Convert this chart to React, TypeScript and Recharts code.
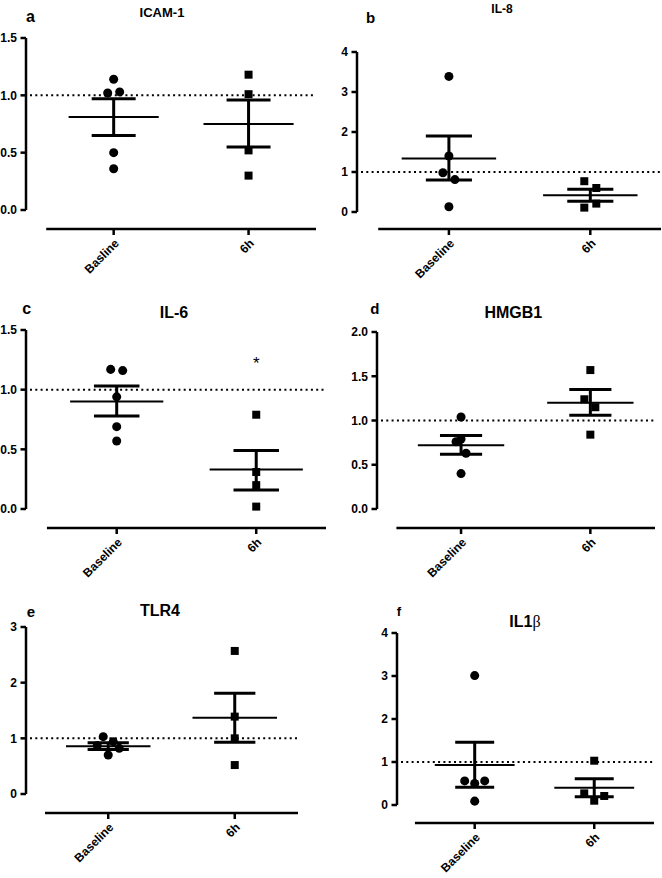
import React from "react"
import { ScatterChart, Scatter, XAxis, YAxis, ZAxis, ReferenceLine } from "recharts"

const FONT = "'Liberation Sans', Arial, sans-serif"

const GROUPS = [1, 2]
const LABELS = ["Baseline", "6h"]
const LABELS_A = ["Basline", "6h"]

// a  ICAM-1
const ICAM1_BASE = [1.14, 1.02, 1.03, 0.5, 0.36]
const ICAM1_6H = [1.18, 1.01, 0.52, 0.3]
const ICAM1_MEAN = [0.81, 0.75]
const ICAM1_SEM_HI = [0.97, 0.96]
const ICAM1_SEM_LO = [0.65, 0.55]
const ICAM1_TICKS = [0, 0.5, 1, 1.5]

// b  IL-8
const IL8_BASE = [3.39, 1.4, 0.98, 0.81, 0.13]
const IL8_6H = [0.77, 0.6, 0.21, 0.11]
const IL8_MEAN = [1.34, 0.42]
const IL8_SEM_HI = [1.9, 0.57]
const IL8_SEM_LO = [0.8, 0.27]
const IL8_TICKS = [0, 1, 2, 3, 4]

// c  IL-6
const IL6_BASE = [1.17, 1.16, 0.94, 0.69, 0.57]
const IL6_6H = [0.79, 0.31, 0.2, 0.02]
const IL6_MEAN = [0.9, 0.33]
const IL6_SEM_HI = [1.03, 0.49]
const IL6_SEM_LO = [0.78, 0.16]
const IL6_TICKS = [0, 0.5, 1, 1.5]
const IL6_STAR = [1.26]

// d  HMGB1
const HMGB1_BASE = [1.04, 0.79, 0.76, 0.63, 0.4]
const HMGB1_6H = [1.57, 1.24, 1.15, 0.84]
const HMGB1_MEAN = [0.72, 1.2]
const HMGB1_SEM_HI = [0.83, 1.35]
const HMGB1_SEM_LO = [0.62, 1.06]
const HMGB1_TICKS = [0, 0.5, 1, 1.5, 2]

// e  TLR4
const TLR4_BASE = [1.03, 0.94, 0.87, 0.82, 0.7]
const TLR4_6H = [2.57, 1.39, 1.0, 0.52]
const TLR4_MEAN = [0.86, 1.37]
const TLR4_SEM_HI = [0.92, 1.81]
const TLR4_SEM_LO = [0.8, 0.93]
const TLR4_TICKS = [0, 1, 2, 3]

// f  IL1β
const IL1B_BASE = [3.01, 0.56, 0.5, 0.56, 0.09]
const IL1B_6H = [1.03, 0.27, 0.21, 0.1]
const IL1B_MEAN = [0.93, 0.4]
const IL1B_SEM_HI = [1.46, 0.61]
const IL1B_SEM_LO = [0.41, 0.19]
const IL1B_TICKS = [0, 1, 2, 3, 4]

// horizontal scatter offsets (px) so overlapping dots sit side by side
const JIT_A = [[0, -6, 6, 0, 0], [0, 0, 0, 0]]
const JIT_B = [[0, 0, -6, 6, 0], [-6, 6, 6, -6]]
const JIT_C = [[-6, 6, 0, 0, 0], [0, 0, 0, 0]]
const JIT_D = [[0, 0, -5, 5, 0], [0, -6, 5, 0]]
const JIT_E = [[-5, 5, -11, 11, 0], [0, 0, 0, 0]]
const JIT_F = [[0, -10, 0, 10, 0], [0, -10, 10, 0]]

// x position of the y axis line, start/end of the x axis line
const XMIN = 0.35
const XMAX = 2.5
const XLINE_START = 0.5
const PAD = 9

const black = "#000"

function Panel(props: any) {
  const { id, box, left, right, top, y0, bottom, base, late, mean, hi, lo, ticks, decimals, labels, jit, star } = props
  const ymax = ticks[ticks.length - 1]
  const ppuX = (right - left) / (XMAX - XMIN)
  const ppuY = (y0 - top) / ymax
  const yLine = -(bottom - y0) / ppuY
  const xDomain = [XMIN - PAD / ppuX, XMAX + PAD / ppuX]
  const yDomain = [yLine - PAD / ppuY, ymax + PAD / ppuY]
  const width = right + PAD + 2 - box[0]
  const height = bottom + PAD - box[1] + 70

  const baseData = base.map((v: number, i: number) => ({ x: GROUPS[0] + jit[0][i] / ppuX, y: v }))
  const lateData = late.map((v: number, i: number) => ({ x: GROUPS[1] + jit[1][i] / ppuX, y: v }))
  const starData = star ? star.map((v: number) => ({ x: GROUPS[1], y: v })) : []

  const tickStyle = { fill: black, fontSize: 12, fontWeight: 700, fontFamily: FONT }
  const seg = (k: string, a: number[], b: number[], w: number, dash = "none") => (
    <ReferenceLine
      key={k}
      segment={[{ x: a[0], y: a[1] }, { x: b[0], y: b[1] }]}
      stroke={black}
      strokeWidth={w}
      strokeDasharray={dash}
      ifOverflow="visible"
    />
  )

  return (
    <div style={{ position: "absolute", left: box[0], top: box[1] }}>
      <ScatterChart id={id} width={width} height={height} margin={{ top: top - PAD - box[1], right: 2, left: 0, bottom: 0 }}>
        <XAxis
          type="number"
          dataKey="x"
          domain={xDomain}
          ticks={GROUPS}
          interval={0}
          tickFormatter={(v: number) => labels[Math.round(v) - 1]}
          axisLine={false}
          tickLine={false}
          tickSize={0}
          tickMargin={0}
          angle={-45}
          textAnchor="end"
          height={70}
          tick={tickStyle}
        />
        <YAxis
          type="number"
          dataKey="y"
          domain={yDomain}
          ticks={ticks}
          interval={0}
          tickFormatter={(v: number) => v.toFixed(decimals)}
          axisLine={false}
          tickLine={false}
          tickSize={0}
          tickMargin={0}
          width={left - PAD - box[0]}
          tick={tickStyle}
        />
        <ZAxis range={[66, 66]} />
        {seg("ya", [XMIN, 0], [XMIN, ymax], 2.5)}
        {seg("xa", [XLINE_START, yLine], [XMAX, yLine], 2.5)}
        {ticks.map((t: number) => seg("yt" + t, [XMIN - 5.5 / ppuX, t], [XMIN, t], 2.5))}
        {GROUPS.map((g) => seg("xt" + g, [g, yLine], [g, yLine - 6 / ppuY], 2.5))}
        {GROUPS.map((g, i) => seg("m" + i, [g - 0.334, mean[i]], [g + 0.334, mean[i]], 2))}
        {GROUPS.map((g, i) => seg("v" + i, [g, lo[i]], [g, hi[i]], 3))}
        {GROUPS.map((g, i) => seg("h" + i, [g - 0.163, hi[i]], [g + 0.163, hi[i]], 3))}
        {GROUPS.map((g, i) => seg("l" + i, [g - 0.163, lo[i]], [g + 0.163, lo[i]], 3))}
        {seg("ref", [XMIN + 4 / ppuX, 1], [XMAX, 1], 2, "2 3.3")}
        <Scatter data={baseData} shape="circle" fill={black} isAnimationActive={false} />
        <Scatter data={lateData} shape="square" fill={black} isAnimationActive={false} />
        {star && (
          <Scatter
            data={starData}
            isAnimationActive={false}
            shape={(p: any) => (
              <text x={p.cx} y={p.cy + 10} textAnchor="middle" fontSize={17} fontFamily={FONT} fill={black}>
                *
              </text>
            )}
          />
        )}
      </ScatterChart>
    </div>
  )
}

const titleStyle = { fontFamily: FONT, fontWeight: 700, fill: black }

export default function App() {
  return (
    <div style={{ position: "absolute", left: 0, top: 0, width: 662, height: 878, background: "#fff", overflow: "hidden" }}>
      <Panel id="icam1" box={[0, 0]} left={26} right={316} top={38} y0={210} bottom={229}
        base={ICAM1_BASE} late={ICAM1_6H} mean={ICAM1_MEAN} hi={ICAM1_SEM_HI} lo={ICAM1_SEM_LO}
        ticks={ICAM1_TICKS} decimals={1} labels={LABELS_A} jit={JIT_A} />
      <Panel id="il8" box={[331, 0]} left={357} right={661} top={52} y0={212} bottom={229}
        base={IL8_BASE} late={IL8_6H} mean={IL8_MEAN} hi={IL8_SEM_HI} lo={IL8_SEM_LO}
        ticks={IL8_TICKS} decimals={0} labels={LABELS} jit={JIT_B} />
      <Panel id="il6" box={[0, 290]} left={26} right={326} top={330} y0={509} bottom={528}
        base={IL6_BASE} late={IL6_6H} mean={IL6_MEAN} hi={IL6_SEM_HI} lo={IL6_SEM_LO}
        ticks={IL6_TICKS} decimals={1} labels={LABELS} jit={JIT_C} star={IL6_STAR} />
      <Panel id="hmgb1" box={[331, 290]} left={377} right={655} top={332} y0={509} bottom={528}
        base={HMGB1_BASE} late={HMGB1_6H} mean={HMGB1_MEAN} hi={HMGB1_SEM_HI} lo={HMGB1_SEM_LO}
        ticks={HMGB1_TICKS} decimals={1} labels={LABELS} jit={JIT_D} />
      <Panel id="tlr4" box={[0, 580]} left={26} right={298} top={627} y0={794} bottom={813}
        base={TLR4_BASE} late={TLR4_6H} mean={TLR4_MEAN} hi={TLR4_SEM_HI} lo={TLR4_SEM_LO}
        ticks={TLR4_TICKS} decimals={0} labels={LABELS} jit={JIT_E} />
      <Panel id="il1b" box={[331, 580]} left={397} right={654} top={633} y0={805} bottom={823}
        base={IL1B_BASE} late={IL1B_6H} mean={IL1B_MEAN} hi={IL1B_SEM_HI} lo={IL1B_SEM_LO}
        ticks={IL1B_TICKS} decimals={0} labels={LABELS} jit={JIT_F} />

      <svg width={662} height={878} style={{ position: "absolute", left: 0, top: 0, pointerEvents: "none" }}>
        <text x={30.5} y={21.7} fontSize={16} textAnchor="middle" {...titleStyle}>a</text>
        <text x={370.5} y={23.3} fontSize={15} textAnchor="middle" {...titleStyle}>b</text>
        <text x={26.7} y={314} fontSize={16} textAnchor="middle" {...titleStyle}>c</text>
        <text x={374.8} y={314} fontSize={15} textAnchor="middle" {...titleStyle}>d</text>
        <text x={30.8} y={617.3} fontSize={15} textAnchor="middle" {...titleStyle}>e</text>
        <text x={398.8} y={615.7} fontSize={13} textAnchor="middle" {...titleStyle}>f</text>

        <text x={162} y={16.7} fontSize={13} textAnchor="middle" {...titleStyle}>ICAM-1</text>
        <text x={502} y={13.3} fontSize={12} textAnchor="middle" {...titleStyle}>IL-8</text>
        <text x={174} y={318.3} fontSize={16} textAnchor="middle" {...titleStyle}>IL-6</text>
        <text x={513.3} y={318.3} fontSize={16} textAnchor="middle" {...titleStyle}>HMGB1</text>
        <text x={160} y={616} fontSize={16} textAnchor="middle" {...titleStyle}>TLR4</text>
        <text x={525} y={626.7} fontSize={16} textAnchor="middle" {...titleStyle}>
          IL1<tspan fontFamily="'Liberation Serif', serif" fontWeight={400}>β</tspan>
        </text>
      </svg>
    </div>
  )
}
